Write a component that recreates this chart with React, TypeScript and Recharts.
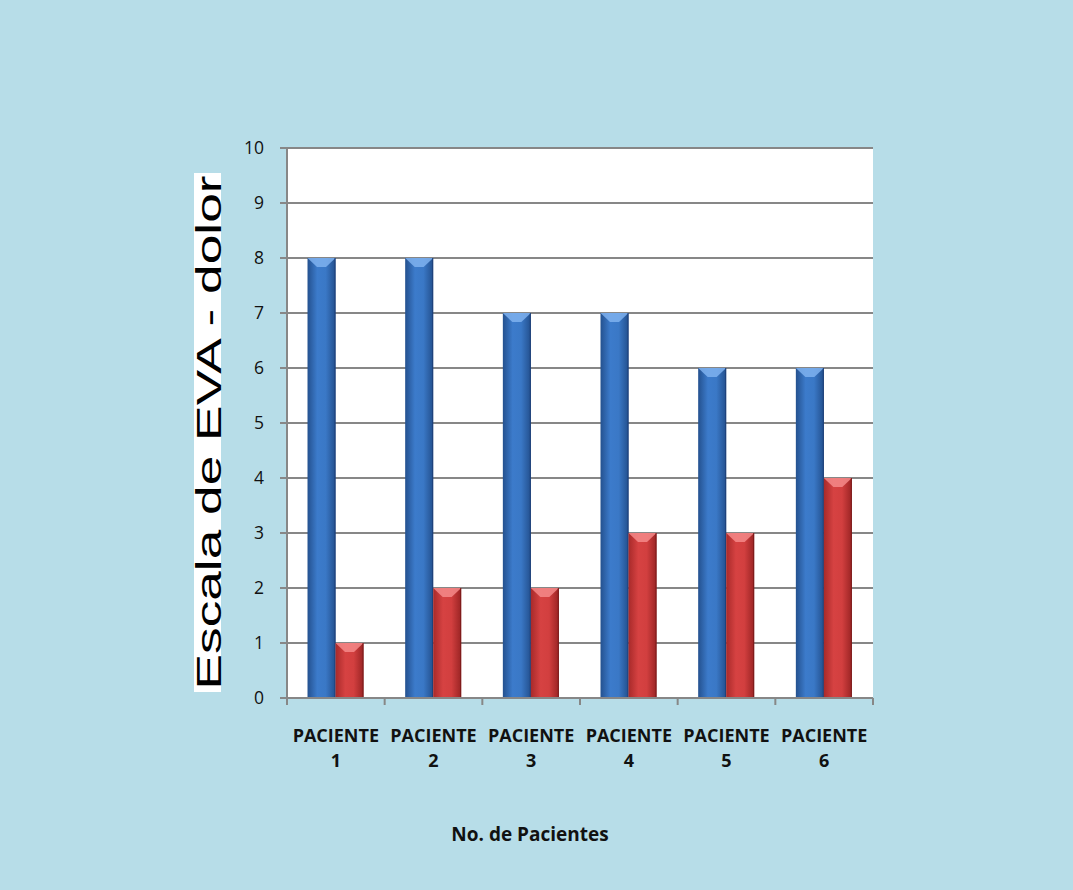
import React from "react";
import { BarChart, Bar, XAxis, YAxis, CartesianGrid } from "recharts";

const pacientes = ["PACIENTE 1", "PACIENTE 2", "PACIENTE 3", "PACIENTE 4", "PACIENTE 5", "PACIENTE 6"];
const evaAntes = [8, 8, 7, 7, 6, 6];
const evaDespues = [1, 2, 2, 3, 3, 4];
const yTicks = [0, 1, 2, 3, 4, 5, 6, 7, 8, 9, 10];

const data = pacientes.map((name, i) => ({
  name,
  antes: evaAntes[i],
  despues: evaDespues[i],
}));

const W = 1073;
const H = 890;
const PLOT_LEFT = 287;
const PLOT_RIGHT = 873;
const BAND = (PLOT_RIGHT - PLOT_LEFT) / pacientes.length;
const GRID = "#878787";
const FONT = "'Open Sans', 'Liberation Sans', sans-serif";

// bevelled bar: gradient body plus a lighter top face
function makeBevelBar(gradId: string, topColor: string, edge: string) {
  return (props: any) => {
    const { x, y, width, height } = props;
    if (!height || height <= 0) return null;
    const bev = Math.min(9, height / 2);
    const inset = width * 0.34;
    return (
      <g>
        <rect x={x} y={y} width={width} height={height} fill={`url(#${gradId})`} />
        <polygon
          points={`${x},${y} ${x + width},${y} ${x + width - inset},${y + bev} ${x + inset},${y + bev}`}
          fill={topColor}
          opacity={0.85}
        />
        <line x1={x + width - 0.5} y1={y} x2={x + width - 0.5} y2={y + height} stroke={edge} strokeWidth={1} />
      </g>
    );
  };
}

const BlueBar = makeBevelBar("gradAzul", "#7fb2ee", "#1d3f78");
const RedBar = makeBevelBar("gradRojo", "#f58a8a", "#7a1a1a");

function PacienteTick(props: any) {
  const { x, y, payload, index } = props;
  const [word, num] = String(payload.value).split(" ");
  const left = x - BAND / 2;
  return (
    <g>
      <line x1={left} y1={y} x2={left} y2={y + 7} stroke={GRID} strokeWidth={2} />
      {index === pacientes.length - 1 && (
        <line x1={x + BAND / 2} y1={y} x2={x + BAND / 2} y2={y + 7} stroke={GRID} strokeWidth={2} />
      )}
      <text x={x} y={y + 44} textAnchor="middle" fontFamily={FONT} fontWeight={700} fontSize={18} fill="#111">
        {word}
      </text>
      <text x={x} y={y + 69} textAnchor="middle" fontFamily={FONT} fontWeight={700} fontSize={18} fill="#111">
        {num}
      </text>
    </g>
  );
}

function YTitle() {
  return (
    <g>
      <rect x={194} y={173} width={27} height={519} fill="#ffffff" />
      <text
        transform="translate(221, 432.5) rotate(-90)"
        textAnchor="middle"
        fontFamily="'Liberation Sans', Arial, sans-serif"
        fontSize={35}
        textLength={514}
        lengthAdjust="spacingAndGlyphs"
        fill="#000"
      >
        Escala de EVA - dolor
      </text>
    </g>
  );
}

function XTitle() {
  return (
    <text x={530} y={841} textAnchor="middle" fontFamily={FONT} fontWeight={700} fontSize={19} fill="#111">
      No. de Pacientes
    </text>
  );
}

export default function App() {
  return (
    <div style={{ position: "absolute", left: 0, top: 0, width: W, height: H, background: "#b7dde8" }}>
      <BarChart
        width={W}
        height={H}
        data={data}
        margin={{ top: 148, right: W - PLOT_RIGHT, left: PLOT_LEFT - 60, bottom: 132 }}
        barCategoryGap="21%"
        barGap={0}
      >
        <defs>
          <linearGradient id="gradAzul" x1="0" y1="0" x2="1" y2="0">
            <stop offset="0%" stopColor="#24518f" />
            <stop offset="35%" stopColor="#3c7bcb" />
            <stop offset="65%" stopColor="#3a78c6" />
            <stop offset="100%" stopColor="#23508e" />
          </linearGradient>
          <linearGradient id="gradRojo" x1="0" y1="0" x2="1" y2="0">
            <stop offset="0%" stopColor="#a82a2a" />
            <stop offset="35%" stopColor="#d64242" />
            <stop offset="65%" stopColor="#d23f3f" />
            <stop offset="100%" stopColor="#9a2424" />
          </linearGradient>
        </defs>
        <CartesianGrid vertical={false} fill="#ffffff" stroke={GRID} strokeWidth={2} />
        <XAxis
          dataKey="name"
          height={60}
          axisLine={{ stroke: GRID, strokeWidth: 2 }}
          tickLine={false}
          tickSize={0}
          tickMargin={0}
          interval={0}
          tick={<PacienteTick />}
          label={<XTitle />}
        />
        <YAxis
          width={60}
          domain={[0, 10]}
          ticks={yTicks}
          interval={0}
          axisLine={{ stroke: GRID, strokeWidth: 2 }}
          tickLine={{ stroke: GRID, strokeWidth: 2 }}
          tickSize={7}
          tickMargin={16}
          tick={{ fill: "#111", fontSize: 17.5, fontFamily: FONT }}
          label={<YTitle />}
        />
        <Bar dataKey="antes" fill="#3a78c6" shape={BlueBar} isAnimationActive={false} />
        <Bar dataKey="despues" fill="#d23f3f" shape={RedBar} isAnimationActive={false} />
      </BarChart>
    </div>
  );
}
